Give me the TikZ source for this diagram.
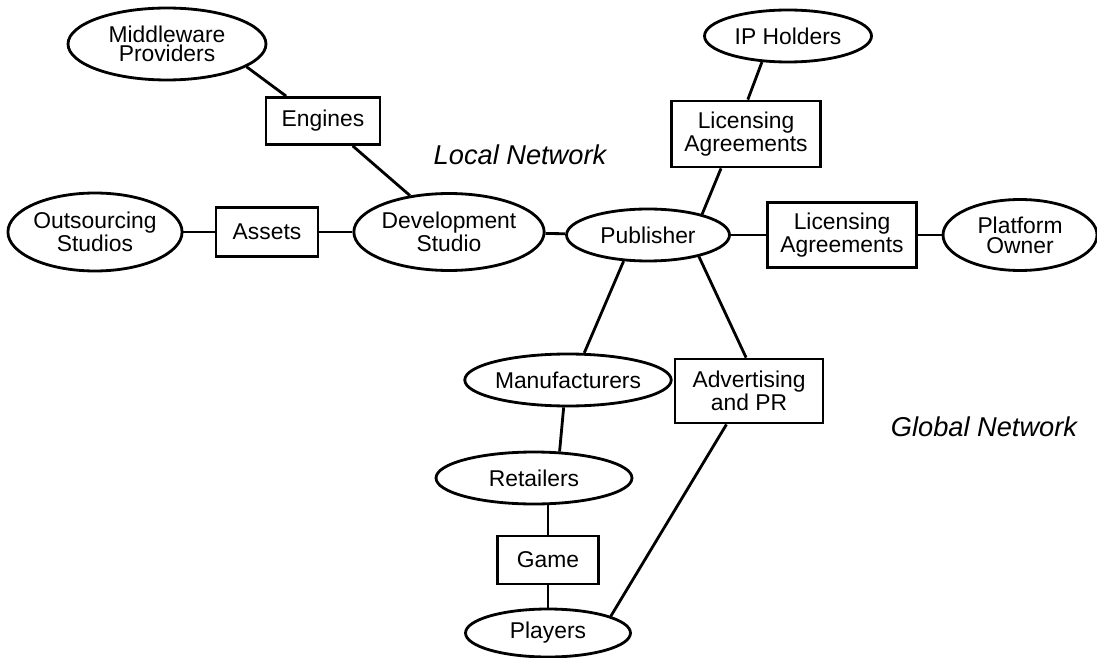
\documentclass[tikz,border=0pt]{standalone}
\usepackage{fontspec}
\setmainfont{Liberation Sans}
\usepackage{tikz}
\usetikzlibrary{shapes.geometric}

\begin{document}
\begin{tikzpicture}[
  x=0.02cm, y=-0.02cm,
  font=\fontsize{13}{11.2}\selectfont,
  entidad/.style={ellipse, draw=black, line width=1.6pt, fill=white,
               inner sep=0pt, align=center},
  recurso/.style={rectangle, draw=black, line width=1.6pt, fill=white,
               inner sep=0pt, align=center},
  fl/.style={line width=1.6pt, black},
  etiqueta/.style={font=\fontsize{15.5}{18}\selectfont\itshape}
]
\useasboundingbox (0,0) rectangle (1097,658);

% ---- Red local: estudio y proveedores ----
\node[entidad, minimum width=3.96cm, minimum height=1.44cm] (mid) at (167,44) {Middleware\\Providers};
\node[recurso, minimum width=2.28cm, minimum height=0.94cm] (eng) at (323,121) {Engines};
\node[entidad, minimum width=3.28cm, minimum height=1.56cm] (out) at (95,232) {Outsourcing\\Studios};
\node[recurso, minimum width=2.04cm, minimum height=0.98cm] (assets) at (267,232) {Assets};
\node[entidad, minimum width=3.22cm, minimum height=1.54cm] (dev) at (449,232) {Development\\Studio};
\node[etiqueta] (local) at (520,155) {Local Network};

% ---- Editor y licencias ----
\node[entidad, minimum width=3.26cm, minimum height=1.04cm] (pub) at (648,235) {Publisher};
\node[entidad, minimum width=3.34cm, minimum height=1.04cm] (ip) at (788,36) {IP Holders};
\node[recurso, minimum width=2.98cm, minimum height=1.32cm] (lictop) at (746,134) {Licensing\\Agreements};
\node[recurso, minimum width=2.98cm, minimum height=1.30cm] (licr) at (842,235) {Licensing\\Agreements};
\node[entidad, minimum width=3.08cm, minimum height=1.42cm] (plat) at (1020,235) {Platform\\Owner};

% ---- Red global: distribucion ----
\node[entidad, minimum width=3.86cm, minimum height=1.04cm] (manuf) at (568,380) {Manufacturers};
\node[recurso, minimum width=2.96cm, minimum height=1.28cm] (adv) at (749,391) {Advertising\\and PR};
\node[entidad, minimum width=3.92cm, minimum height=1.04cm] (ret) at (534,478) {Retailers};
\node[recurso, minimum width=2.02cm, minimum height=0.96cm] (game) at (548,560) {Game};
\node[entidad, minimum width=3.30cm, minimum height=0.96cm] (play) at (548,633) {Players};
\node[etiqueta] (global) at (984,427) {Global Network};

% ---- Enlaces ----
\draw[fl] (mid.-16) -- (eng.146);
\draw[fl] (eng.-40) -- (dev.137);
\draw[fl] (out) -- (assets);
\draw[fl] (assets) -- (dev);
\draw[fl] (dev) -- (pub);
\draw[fl] (ip.-135) -- (lictop.87);
\draw[fl] (lictop.-126) -- (pub.21);
\draw[fl] (pub) -- (licr);
\draw[fl] (licr) -- (plat);
\draw[fl] (pub.-133) -- (manuf.59);
\draw[fl] (pub.-23) -- (adv.95);
\draw[fl] (manuf.-99) -- (ret.46);
\draw[fl] (ret.south -| game.north) -- (game.north);
\draw[fl] (game) -- (play);
\draw[fl] (adv.-124) -- (play.15);
\end{tikzpicture}
\end{document}
